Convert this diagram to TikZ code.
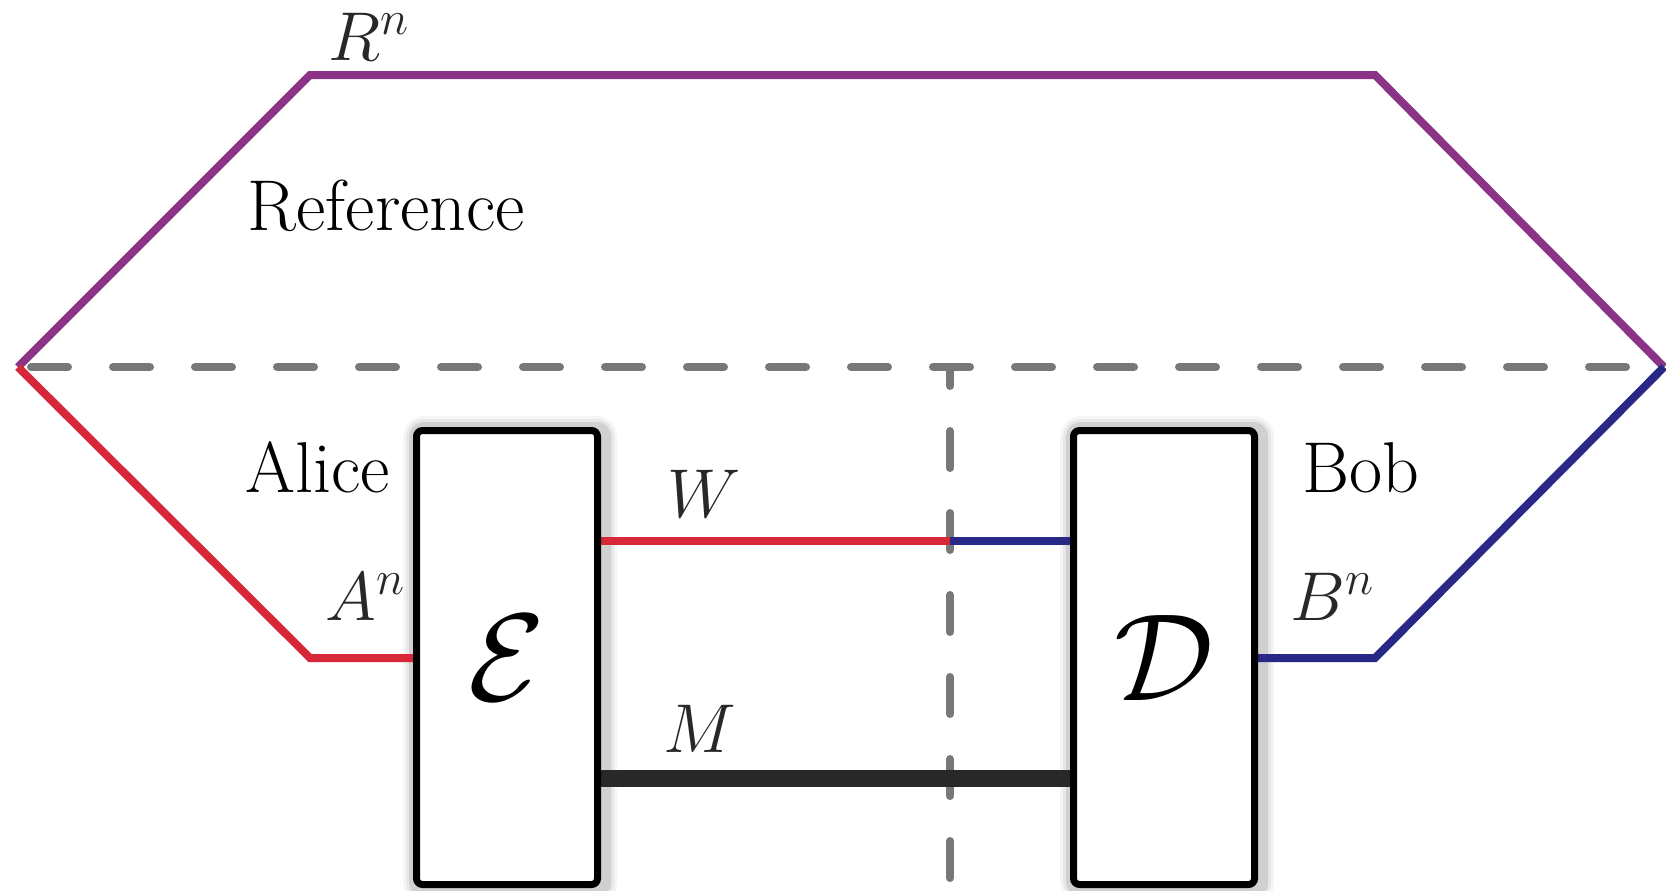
\documentclass[tikz,border=0pt]{standalone}
\usepackage{graphicx}
\definecolor{cpurple}{RGB}{139,52,135}
\definecolor{cred}{RGB}{214,40,57}
\definecolor{cblue}{RGB}{40,40,135}
\definecolor{cdark}{RGB}{40,40,40}
\definecolor{cgray}{RGB}{120,120,120}
\pgfdeclarelayer{background}
\pgfsetlayers{background,main}
\begin{document}
\begin{tikzpicture}[x=0.25pt,y=-0.25pt,
  wire/.style={line width=2pt},
  sepline/.style={cgray,line width=2pt,line cap=round},
  procbox/.style={draw=black,fill=white,line width=1.75pt,rounded corners=1.5pt,
    minimum width=45.25pt,minimum height=113.5pt,inner sep=0pt,
    font=\fontsize{17}{20}\selectfont},
  lbl/.style={inner sep=0pt,anchor=base west,font=\fontsize{18}{21}\selectfont},
  mlbl/.style={inner sep=0pt,anchor=base west,text=cdark,font=\fontsize{17}{20}\selectfont},
]
\useasboundingbox (0,0) rectangle (1666,890);
\coordinate (L) at (18,367);
\coordinate (TL) at (310,75);
\coordinate (TR) at (1375,75);
\coordinate (R) at (1664,367);
\coordinate (BL) at (310,658);
\coordinate (BR) at (1375,658);
\coordinate (C) at (950,367);
\coordinate (Cb) at (950,890);
\coordinate (Wmid) at (950,541);
\coordinate (Mlev) at (950,778);

% boxes
\node[procbox] (E) at (507,657.5) {\scalebox{1.8}{$\mathcal{E}$}};
\node[procbox] (D) at (1164,657.5) {\scalebox{1.8}{$\mathcal{D}$}};

\begin{pgfonlayer}{background}
  % soft shadows
  \foreach \lw/\op in {3.5pt/0.10,5pt/0.06,6.5pt/0.04}{
    \draw[black,opacity=\op,line width=\lw,rounded corners=2pt]
      ([xshift=0.8pt,yshift=-0.5pt]E.south west) rectangle ([xshift=0.8pt,yshift=-0.5pt]E.north east);
    \draw[black,opacity=\op,line width=\lw,rounded corners=2pt]
      ([xshift=0.8pt,yshift=-0.5pt]D.south west) rectangle ([xshift=0.8pt,yshift=-0.5pt]D.north east);
  }
  % dashed separators
  \draw[sepline,dash pattern=on 9.25pt off 11.25pt,dash phase=17.25pt] (L) -- (R);
  \draw[sepline,dash pattern=on 9.25pt off 11.25pt,dash phase=4.5pt] (C) -- (Cb);
  % reference system
  \draw[wire,cpurple] (L) -- (TL) -- (TR) -- (R);
  % Alice
  \draw[wire,cred] (L) -- (BL) -- (E.west |- BL);
  % Bob
  \draw[wire,cblue] (D.east |- BR) -- (BR) -- (R);
  % W
  \draw[wire,cred] (E.east |- Wmid) -- (Wmid);
  \draw[wire,cblue] (Wmid) -- (D.west |- Wmid);
  % M
  \draw[cdark,line width=4.25pt] (E.east |- Mlev) -- (D.west |- Mlev);
\end{pgfonlayer}

% labels
\node[mlbl] (Rn) at (328,60) {$R^n$};
\node[lbl] (Ref) at (247,230) {Reference};
\node[lbl] (Alice) at (245,492) {Alice};
\node[mlbl] (An) at (325,620) {$A^n$};
\node[lbl] (Bob) at (1302,492) {Bob};
\node[mlbl] (Bn) at (1290,620) {$B^n$};
\node[mlbl] (Wl) at (667,517) {$W$};
\node[mlbl] (Ml) at (663,752) {$M$};
\end{tikzpicture}
\end{document}
